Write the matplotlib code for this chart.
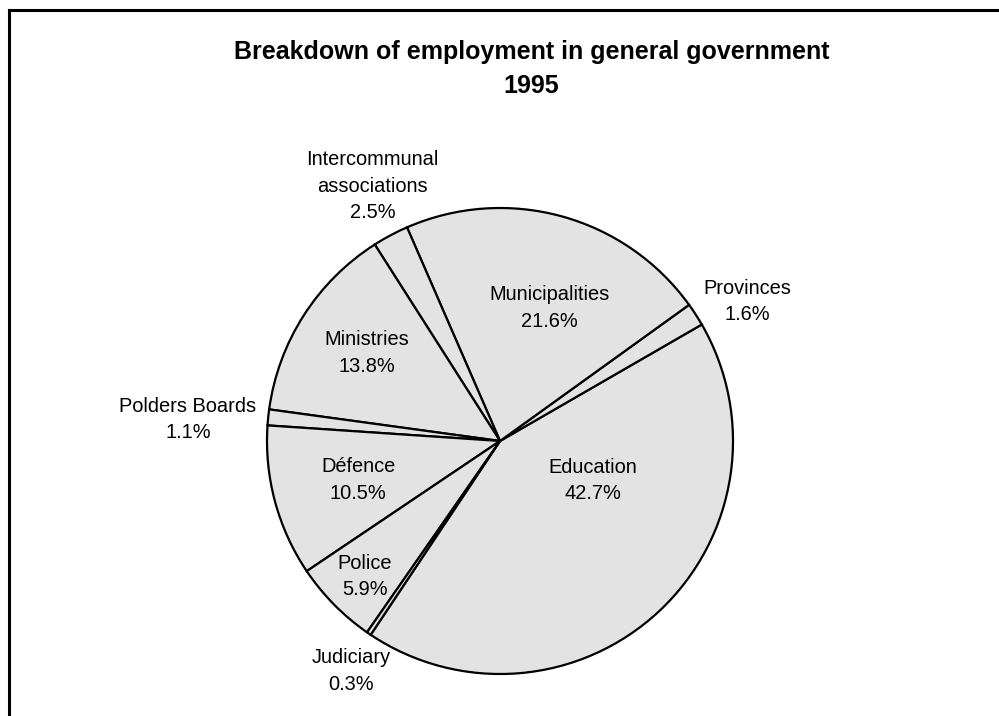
import matplotlib
matplotlib.use('Agg')
import matplotlib.pyplot as plt
import numpy as np

plt.rcParams['font.family'] = ['Liberation Sans', 'DejaVu Sans']

# Data
categories = ['Education', 'Provinces', 'Municipalities', 'Intercommunal\nassociations',
              'Ministries', 'Polders Boards', 'Défence', 'Police', 'Judiciary']
shares = [42.7, 1.6, 21.6, 2.5, 13.8, 1.1, 10.5, 5.9, 0.3]

# label placement (in pie-radius units)
label_pos = [(0.40, -0.17), (1.062, 0.60), (0.212, 0.571), (-0.547, 1.094),
             (-0.572, 0.378), (-1.339, 0.092), (-0.609, -0.167), (-0.579, -0.582),
             (-0.639, -0.987)]

fig = plt.figure(figsize=(9.99, 7.16), dpi=100)

# frame (left and top only visible)
fig.add_artist(plt.Line2D([0.009, 0.009], [0, 0.986], color='black', lw=2.2,
                          transform=fig.transFigure))
fig.add_artist(plt.Line2D([0.009, 1.0], [0.986, 0.986], color='black', lw=2.2,
                          transform=fig.transFigure))

fig.text(0.532, 1 - 59 / 716, 'Breakdown of employment in general government',
         ha='center', va='baseline', fontsize=18, fontweight='bold')
fig.text(0.532, 1 - 93 / 716, '1995',
         ha='center', va='baseline', fontsize=18, fontweight='bold')

r = 233 / 716 * 7.16  # inches
cx, cy = 500 / 999, 1 - 441 / 716
w = 2 * r / 9.99
h = 2 * r / 7.16
ax = fig.add_axes([cx - w / 2, cy - h / 2, w, h])

start = 30.0 - shares[0] * 3.6
ax.pie(shares, startangle=start, counterclock=True, colors=['#e3e3e3'] * len(shares),
       wedgeprops=dict(edgecolor='black', linewidth=1.6), radius=1.0)

for cat, val, (x, y) in zip(categories, shares, label_pos):
    ax.text(x, y, f'{cat}\n{val:.1f}%', ha='center', va='center', fontsize=14.4,
            linespacing=1.48)

ax.set_xlim(-1, 1)
ax.set_ylim(-1, 1)
ax.set_aspect('equal')
ax.axis('off')

fig.savefig('out.png', dpi=100)
